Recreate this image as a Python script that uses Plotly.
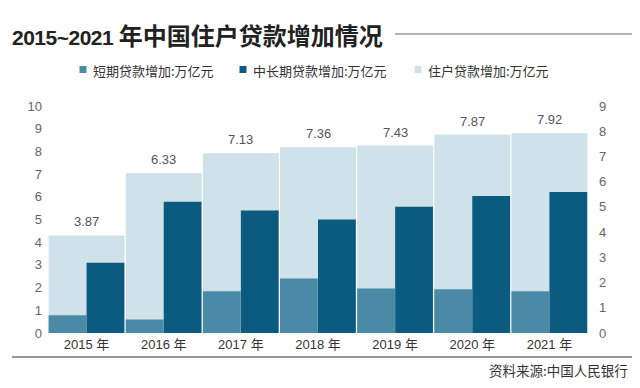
import plotly.graph_objects as go

# ---- data ----
years = ["2015 年", "2016 年", "2017 年", "2018 年", "2019 年", "2020 年", "2021 年"]
short_term = [0.78, 0.59, 1.84, 2.40, 1.96, 1.93, 1.84]       # 短期贷款增加:万亿元 (left axis)
mid_long = [3.10, 5.78, 5.40, 5.00, 5.56, 6.04, 6.21]         # 中长期贷款增加:万亿元 (left axis)
household = [3.87, 6.33, 7.13, 7.36, 7.43, 7.87, 7.92]        # 住户贷款增加:万亿元 (right axis)
value_labels = ["3.87", "6.33", "7.13", "7.36", "7.43", "7.87", "7.92"]
left_ticks = list(range(0, 11))
right_ticks = list(range(0, 10))

names = ["短期贷款增加:万亿元", "中长期贷款增加:万亿元", "住户贷款增加:万亿元"]
title_text = ("<span style=\"font-family:'Liberation Sans';font-size:21px;letter-spacing:-0.5px\">"
              "2015~2021</span> 年中国住户贷款增加情况")
source_text = "资料来源:中国人民银行"

# ---- style ----
C_SHORT = "#4a8aa6"
C_MID = "#0b5b80"
C_HH = "#cfe2e9"
OFF = 8                     # page body margin
W, H = 640 - 2 * OFF, 388 - 2 * OFF
# plot area in screen pixels: x 48..588, y 106..333
ML, MR, MT, MB = 48 - OFF, W - (588 - OFF), 106 - OFF, H - (333 - OFF)
PW, PH = W - ML - MR, H - MT - MB
CJK = "Noto Sans CJK SC"
LAT = "Liberation Sans, Noto Sans CJK SC"


def px(x):
    return (x - OFF - ML) / PW


def py(y):
    return (H - MB - (y - OFF)) / PH


fig = go.Figure()
fig.add_trace(go.Bar(x=years, y=household, yaxis="y", name=names[2],
                     marker=dict(color=C_HH, line=dict(width=0)),
                     width=0.985, offset=-0.4925, showlegend=False))
fig.add_trace(go.Bar(x=years, y=short_term, yaxis="y2", name=names[0],
                     marker=dict(color=C_SHORT, line=dict(width=0)),
                     width=0.49, offset=-0.4925, showlegend=False))
fig.add_trace(go.Bar(x=years, y=mid_long, yaxis="y2", name=names[1],
                     marker=dict(color=C_MID, line=dict(width=0)),
                     width=0.49, offset=0.0, showlegend=False))

annotations = []
# value labels above household bars
for yr, v, lab in zip(years, household, value_labels):
    annotations.append(dict(x=yr, y=v, xref="x", yref="y", text=lab, showarrow=False,
                            yanchor="bottom", yshift=4,
                            font=dict(family=LAT, size=13, color="#555555")))
# title
annotations.append(dict(x=px(10), y=py(34), xref="paper", yref="paper", text=title_text,
                        showarrow=False, xanchor="left", yanchor="middle",
                        font=dict(family=CJK, size=24, color="#222222", weight="bold")))
# legend (custom)
leg_pos = [(83, C_SHORT), (243, C_MID), (418, C_HH)]
shapes = []
for (mx, col), nm in zip(leg_pos, names):
    shapes.append(dict(type="rect", xref="paper", yref="paper",
                       x0=px(mx - 3.5), x1=px(mx + 3.5), y0=py(73), y1=py(66),
                       fillcolor=col, line=dict(width=0)))
    annotations.append(dict(x=px(mx + 8), y=py(70), xref="paper", yref="paper", text=nm,
                            showarrow=False, xanchor="left", yanchor="middle",
                            font=dict(family=CJK, size=13, color="#333333")))
# source
annotations.append(dict(x=px(630), y=py(370), xref="paper", yref="paper", text=source_text,
                        showarrow=False, xanchor="right", yanchor="middle",
                        font=dict(family=CJK, size=13.5, color="#333333")))
# lines
shapes.append(dict(type="line", xref="paper", yref="paper", x0=px(395), x1=px(632),
                   y0=py(34), y1=py(34), line=dict(color="#666666", width=1)))
shapes.append(dict(type="line", xref="paper", yref="paper", x0=px(12), x1=px(632),
                   y0=py(357), y1=py(357), line=dict(color="#999999", width=2)))

fig.update_layout(
    width=W, height=H, autosize=False,
    margin=dict(l=ML, r=MR, t=MT, b=MB, pad=0),
    paper_bgcolor="white", plot_bgcolor="white",
    barmode="overlay", showlegend=False,
    xaxis=dict(type="category", range=[-0.5, 6.5], showgrid=False, showline=False,
               zeroline=False, ticks="", ticklabelstandoff=2,
               tickfont=dict(family=LAT, size=13, color="#333333")),
    yaxis=dict(side="right", range=[0, 9], tickvals=right_ticks, showgrid=False,
               zeroline=False, showline=False, ticks="", ticklabelstandoff=10,
               tickfont=dict(family=LAT, size=13, color="#666666")),
    yaxis2=dict(side="left", overlaying="y", range=[0, 10], tickvals=left_ticks,
                showgrid=False, zeroline=False, showline=False, ticks="",
                ticklabelstandoff=5,
                tickfont=dict(family=LAT, size=13, color="#666666")),
    annotations=annotations, shapes=shapes,
)

fig.write_html("out.html")
